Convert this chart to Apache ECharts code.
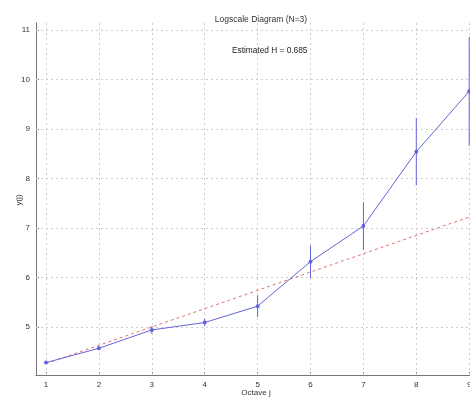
<!DOCTYPE html>
<html>
<head>
<meta charset="utf-8">
<script src="https://cdn.jsdelivr.net/npm/echarts@6/dist/echarts.min.js"></script>
<style>
  html, body { margin: 0; padding: 0; background: #fff; }
  #main { width: 470px; height: 399px; }
</style>
</head>
<body>
<div id="main"></div>
<script>
  // 数据
  var octaves = [1, 2, 3, 4, 5, 6, 7, 8, 9];
  var yj = [4.28, 4.57, 4.94, 5.09, 5.42, 6.32, 7.04, 8.54, 9.76];
  var yjErr = [0.03, 0.04, 0.08, 0.08, 0.22, 0.33, 0.48, 0.68, 1.1];
  var fitX = [1, 9];
  var fitY = [4.26, 7.22];
  var xTicks = [1, 2, 3, 4, 5, 6, 7, 8, 9];
  var yTicks = [5, 6, 7, 8, 9, 10, 11];

  var blue = '#6464dc';
  var myChart = echarts.init(document.getElementById('main'));

  var pts = octaves.map(function (x, i) { return [x, yj[i]]; });
  var bars = octaves.map(function (x, i) { return [x, yj[i] - yjErr[i], yj[i] + yjErr[i]]; });
  var fit = fitX.map(function (x, i) { return [x, fitY[i]]; });

  // 网格线只画在刻度上
  var gridLines = xTicks.map(function (v) { return { xAxis: v }; })
    .concat(yTicks.map(function (v) { return { yAxis: v }; }));

  var axisText = { color: '#333', fontSize: 8, fontFamily: 'Liberation Sans' };

  var option = {
    animation: false,
    title: {
      text: 'Logscale Diagram (N=3)',
      left: 256, top: 10, textAlign: 'center',
      textStyle: { fontSize: 8.5, fontWeight: 'normal', color: '#333', fontFamily: 'Liberation Sans' }
    },
    graphic: [
      { type: 'text', left: 232, top: 47,
        style: { text: 'Estimated H = 0.685', fontSize: 8.3, fill: '#222', fontFamily: 'Liberation Sans' } },
      { type: 'text', x: 256, y: 393,
        style: { text: 'Octave j', fontSize: 8, fill: '#333', fontFamily: 'Liberation Sans',
                 align: 'center', verticalAlign: 'middle' } },
      { type: 'text', x: 19, y: 200, rotation: Math.PI / 2,
        style: { text: 'y(j)', fontSize: 8, fill: '#333', fontFamily: 'Liberation Sans',
                 align: 'center', verticalAlign: 'middle' } }
    ],
    grid: { left: 36, top: 23, width: 434, bottom: 24, outerBoundsMode: 'none', containLabel: false },
    xAxis: {
      type: 'value', min: 0.811, max: 9.015,
      axisLine: { show: true, onZero: false, lineStyle: { color: '#777', width: 1 } },
      axisTick: { show: true, inside: true, length: 3, customValues: xTicks, lineStyle: { color: '#777' } },
      axisLabel: Object.assign({ customValues: xTicks, margin: 6 }, axisText),
      splitLine: { show: false }
    },
    yAxis: {
      type: 'value', min: 4.03, max: 11.14,
      axisLine: { show: true, onZero: false, lineStyle: { color: '#777', width: 1 } },
      axisTick: { show: true, inside: true, length: 3, customValues: yTicks, lineStyle: { color: '#777' } },
      axisLabel: Object.assign({ customValues: yTicks, margin: 6 }, axisText),
      splitLine: { show: false }
    },
    series: [
      {
        name: 'grid', type: 'line', data: [], z: 1,
        markLine: {
          silent: true, symbol: 'none', label: { show: false }, z: 1,
          lineStyle: { color: '#cdcdcd', type: [2, 3], width: 1 },
          data: gridLines
        }
      },
      {
        name: 'fit', type: 'line', data: fit, symbol: 'none', z: 2,
        lineStyle: { color: '#e07070', type: [3, 3], width: 1 }
      },
      {
        name: 'err', type: 'custom', data: bars, z: 3,
        renderItem: function (params, api) {
          var x = api.value(0);
          var lo = api.coord([x, api.value(1)]);
          var hi = api.coord([x, api.value(2)]);
          return {
            type: 'line',
            shape: { x1: lo[0], y1: lo[1], x2: hi[0], y2: hi[1] },
            style: { stroke: blue, lineWidth: 1 }
          };
        }
      },
      {
        name: 'y(j)', type: 'line', data: pts, z: 4,
        symbol: 'circle', symbolSize: 4,
        itemStyle: { color: blue },
        lineStyle: { color: blue, width: 1 }
      }
    ]
  };
  myChart.setOption(option);
</script>
</body>
</html>
